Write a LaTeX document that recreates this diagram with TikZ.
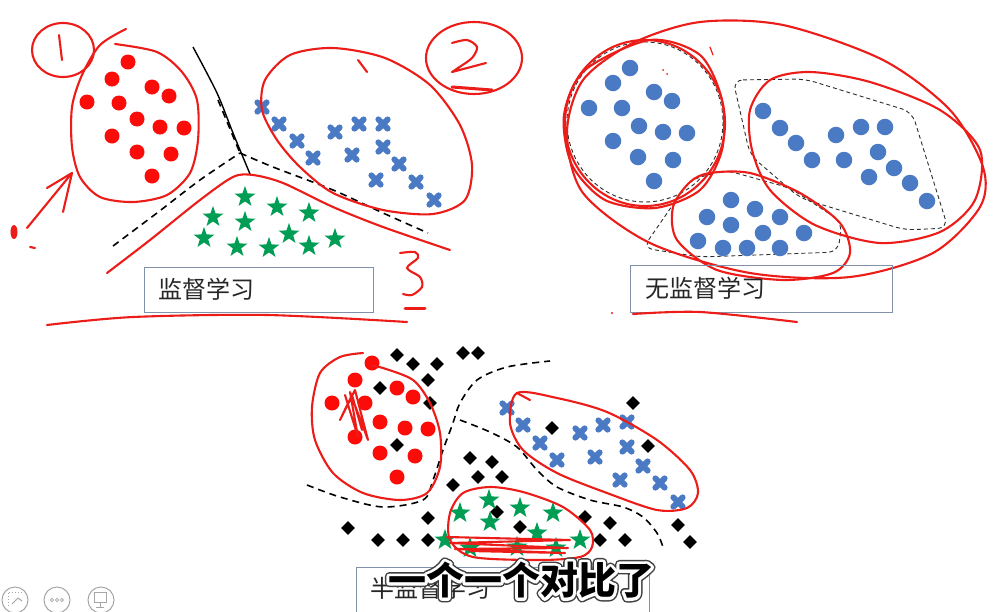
\documentclass[tikz,border=0pt]{standalone}
\usepackage{fontspec}
\setmainfont{Noto Sans CJK SC}
\newfontfamily\cjk{Noto Sans CJK SC}
\usetikzlibrary{shapes.geometric}
\definecolor{penred}{RGB}{236,28,24}
\definecolor{dotred}{RGB}{252,12,8}
\definecolor{ptblue}{RGB}{74,122,196}
\definecolor{ptgreen}{RGB}{0,158,84}
\definecolor{boxedge}{RGB}{130,145,170}
\definecolor{hullgray}{RGB}{45,45,45}
% outlined subtitle text: stroke first, fill after
\newcommand\strokedtext[3]{\special{pdf:literal direct 1 Tr 1 j #1 w #2 RG}#3\special{pdf:literal direct 0 Tr 0.4 w 0 0 0 RG}}

\begin{document}
\begin{tikzpicture}[x=1pt,y=-1pt]
  \tikzstyle{pen}=[draw=penred,line width=2.1pt,line cap=round,line join=round]
  \tikzstyle{rdot}=[circle,fill=dotred,minimum size=15,inner sep=0]
  \tikzstyle{bdot}=[circle,fill=ptblue,minimum size=16.5,inner sep=0]
  \tikzstyle{xmark}=[inner sep=0,minimum size=15]
  \tikzstyle{xline}=[draw=ptblue,line width=6pt,line cap=round]
  \tikzstyle{smark}=[star,star points=5,star point ratio=2.5,fill=ptgreen,minimum size=22,inner sep=0]
  \tikzstyle{dmark}=[diamond,fill=black,minimum size=14,inner sep=0]
  \tikzstyle{sepline}=[draw=black,line width=1.6pt,dash pattern=on 7pt off 5pt]
  \tikzstyle{hull}=[draw=hullgray,line width=0.9pt,dash pattern=on 4pt off 3pt]
  \tikzstyle{labelbox}=[draw=boxedge,line width=1pt,inner sep=0]
  \tikzstyle{labeltext}=[anchor=west,font=\fontsize{24}{26}\selectfont,text=black!85,inner sep=0]
  \tikzstyle{subt}=[font=\cjk\bfseries\fontsize{38}{40}\selectfont,inner sep=0]
  \tikzstyle{icon}=[draw=black!35,line width=1pt]
  \fill[white] (0,0) rectangle (1007,611);
  \useasboundingbox (0,0) rectangle (1007,611);

  % ---- supervised ----
  \draw[pen] (63,50) ellipse (31 and 27);
  \draw[pen] (59,35) -- (62,60);
  \draw[pen] plot[smooth] coordinates {(115,44) (157,52) (182,72) (197,100) (198,140) (190,173) (167,195) (133,202) (100,197) (80,177) (72,147) (72,107) (82,75) (100,45) (126,29)};
  \coordinate (arrtail) at (27,228);
  \coordinate (arrtip) at (72,173);
  \draw[pen] (arrtail) -- (arrtip);
  \draw[pen] (47,188) -- (arrtip) -- (63,212);
  \fill[penred] (14,232) ellipse (3.5 and 7);
  \draw[pen] (30,247) -- (35,248);
  \foreach \p [count=\i] in {(128,62),(112,79),(152,87),(169,96),(87,102),(119,103),(137,119),(160,127),(184,128),(112,136),(137,152),(171,154),(152,176)}
    \node[rdot] (ra\i) at \p {};
  \foreach \p [count=\i] in {(262,107),(279,124),(297,141),(313,158),(335,132),(359,124),(383,124),(383,147),(352,155),(399,164),(376,180),(416,182),(434,200)} {
    \node[xmark] (xa\i) at \p {};
    \draw[xline] ([shift={(-4.6,-4.6)}]xa\i.center) -- ([shift={(4.6,4.6)}]xa\i.center)
                 ([shift={(-4.6,4.6)}]xa\i.center) -- ([shift={(4.6,-4.6)}]xa\i.center);
  }
  \foreach \p [count=\i] in {(245,197),(277,207),(309,213),(213,217),(245,222),(204,238),(237,247),(269,248),(289,234),(309,246),(335,239)}
    \node[smark] (sa\i) at \p {};
  \draw[black,line width=1.4pt] plot[smooth] coordinates {(193,47) (217,93) (233,133) (250,174)};
  \draw[sepline] (218,100) -- (240,153);
  \draw[sepline] plot[smooth] coordinates {(113,246) (157,213) (200,180) (240,153)};
  \draw[sepline] plot[smooth] coordinates {(240,153) (273,167) (333,190) (383,213) (428,233)};
  \draw[pen] plot[smooth] coordinates {(107,273) (150,240) (200,200) (233,177) (253,175) (283,183) (333,207) (383,227) (450,250)};
  \draw[pen] plot[smooth cycle] coordinates {(333,48) (290,55) (265,80) (262,110) (277,140) (300,167) (333,193) (383,210) (433,214) (465,200) (472,165) (460,125) (430,85) (385,58)};
  \draw[pen] (358,60) -- (367,72);
  \draw[pen] (474,58) ellipse (48 and 36);
  \draw[pen] plot[smooth] coordinates {(452,43) (467,40) (477,47) (472,58) (458,68) (452,72)} -- (486,63);
  \draw[pen,line width=3pt] (452,87) -- (492,90);
  \draw[pen] plot[smooth] coordinates {(400,253) (415,252) (418,258) (407,268) (420,277) (422,287) (412,295) (403,294)};
  \draw[pen,line width=3pt] (405,308) -- (425,308);
  \draw[pen] plot[smooth] coordinates {(47,325) (133,317) (267,315) (407,322)};
  \node[labelbox,minimum width=229,minimum height=45] (supbox) at (258.5,289.5) {};
  \node[labeltext] (suptext) at (158,289) {监督学习};

  % ---- unsupervised ----
  \draw[hull] (645,122) ellipse (78 and 80);
  \draw[hull,rounded corners=10] (733,80) -- (805,79) -- (912,112) -- (948,228) -- (905,230) -- (800,198) -- (750,155) -- cycle;
  \draw[hull,rounded corners=10] (643,248) -- (690,180) -- (725,170) -- (790,188) -- (842,222) -- (838,252) -- (700,257) -- cycle;
  \foreach \p [count=\i] in {(630,68),(613,83),(654,92),(672,101),(589,108),(622,108),(639,126),(663,132),(687,133),(613,141),(638,157),(673,160),(654,181),
      (763,111),(780,128),(796,143),(812,160),(836,135),(861,127),(885,127),(878,152),(844,160),(894,168),(869,177),(910,183),(927,201),
      (731,200),(755,209),(780,217),(707,217),(731,225),(763,233),(804,233),(698,241),(723,248),(747,248),(780,248)}
    \node[bdot] (bd\i) at \p {};
  \draw[pen] plot[smooth cycle] coordinates {(700,22) (783,25) (883,60) (950,110) (983,167) (980,207) (933,253) (850,277) (750,273) (650,243) (583,193) (567,133) (583,80) (633,43)};
  \draw[pen] (645,123) ellipse (80 and 83);
  \draw[pen] plot[smooth cycle] coordinates {(650,40) (700,55) (722,100) (722,150) (700,190) (655,208) (605,200) (572,165) (564,115) (585,70)};
  \draw[pen] plot[smooth cycle] coordinates {(750,110) (770,80) (810,72) (870,82) (940,110) (980,150) (975,200) (940,232) (880,243) (815,225) (770,190) (752,150)};
  \draw[pen] plot[smooth cycle] coordinates {(710,173) (750,173) (800,193) (840,223) (850,253) (833,273) (783,280) (717,270) (677,240) (673,207) (690,182)};
  \draw[pen,line width=1.2pt] (710,47) -- (713,55);
  \fill[penred] (663,70) circle (1) (667,74) circle (1) (612,313) circle (1.2);
  \node[labelbox,minimum width=262,minimum height=47] (unsbox) at (761,288.5) {};
  \node[labeltext] (unstext) at (645,288) {无监督学习};
  \draw[pen] plot[smooth] coordinates {(633,314) (700,312) (797,322)};

  % ---- semi-supervised ----
  \foreach \p [count=\i] in {(397,355),(413,364),(437,364),(463,353),(478,353),(428,380),(380,388),(430,403),(397,445),(453,485),
      (470,458),(492,462),(478,477),(502,477),(497,512),(428,518),(348,528),(520,527),(378,540),(403,540),(428,540),
      (552,428),(633,403),(648,446),(585,517),(610,523),(600,540),(625,540),(678,525),(690,542)}
    \node[dmark] (dm\i) at \p {};
  \foreach \p [count=\i] in {(372,363),(355,380),(397,388),(413,397),(332,403),(365,403),(380,422),(405,428),(428,429),(355,437),(380,453),(415,456),(397,477)}
    \node[rdot] (rb\i) at \p {};
  \foreach \p [count=\i] in {(507,408),(523,425),(540,443),(557,460),(580,433),(603,425),(627,422),(595,457),(627,447),(643,466),(620,480),(660,483),(678,502)} {
    \node[xmark] (xb\i) at \p {};
    \draw[xline] ([shift={(-4.6,-4.6)}]xb\i.center) -- ([shift={(4.6,4.6)}]xb\i.center)
                 ([shift={(-4.6,4.6)}]xb\i.center) -- ([shift={(4.6,-4.6)}]xb\i.center);
  }
  \foreach \p [count=\i] in {(460,513),(489,500),(520,508),(553,513),(490,522),(537,533),(445,540),(580,540),(517,547),(556,548),(470,548)}
    \node[smark] (sb\i) at \p {};
  \draw[sepline] plot[smooth] coordinates {(307,485) (340,497) (383,507) (423,500) (433,480) (443,450) (453,423) (460,403) (477,380) (507,367) (550,361)};
  \draw[sepline] plot[smooth] coordinates {(460,420) (490,432) (517,447) (537,470) (557,487) (590,500) (623,507) (643,517) (657,533) (663,547)};
  \draw[pen] plot[smooth] coordinates {(363,353) (340,357) (320,373) (312,407) (315,440) (333,473) (363,493) (400,500) (427,493) (440,467) (440,433) (430,403) (413,380) (383,368) (372,366)};
  \draw[pen] (345,395) -- (358,437) -- (350,392) -- (368,440) -- (355,390) -- (340,420) -- (352,395) -- (362,430);
  \draw[pen] plot[smooth cycle] coordinates {(517,393) (557,398) (607,412) (657,440) (690,470) (698,493) (687,508) (657,510) (607,493) (557,473) (523,450) (510,423)};
  \draw[pen] (517,393) -- (530,400);
  \draw[pen] plot[smooth cycle] coordinates {(490,487) (523,492) (563,507) (590,530) (592,547) (580,557) (540,560) (473,557) (450,540) (450,513) (463,493)};
  \draw[pen] (447,537) -- (570,540) -- (450,543) -- (568,548) -- (455,549) -- (565,553) -- (470,551);
  \node[labelbox,minimum width=293,minimum height=56] (semibox) at (502.5,595) {};
  \node[labeltext] (semitext) at (370,588) {半监督学习};

  % ---- subtitle ----
  \node[subt] (subedge) at (521,580) {\strokedtext{9}{0.25 0.25 0.25}{一个一个对比了}};
  \node[subt] (subhalo) at (521,580) {\strokedtext{6}{1 1 1}{一个一个对比了}};
  \node[subt,text=black] (sub) at (521,580) {一个一个对比了};

  % ---- player icons ----
  \draw[icon] (15,600) circle (13) (57,600) circle (13) (101,600) circle (13);
  \draw[icon,dotted] (8,606) -- (8,592) -- (22,592);
  \draw[icon] (12,604) -- (18,598) -- (22,601);
  \draw[icon,line width=0.8pt] (52,600) circle (1.6) (57,600) circle (1.6) (62,600) circle (1.6);
  \draw[icon] (94,592) rectangle (106,602) (100,602) -- (100,607) (96,607) -- (104,607);
\end{tikzpicture}
\end{document}
